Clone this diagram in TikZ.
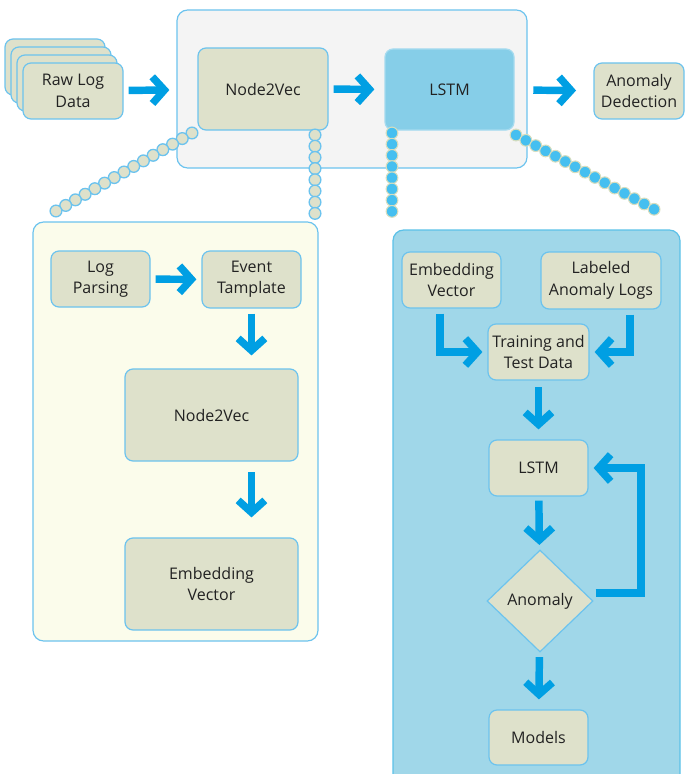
\documentclass[tikz,border=0pt]{standalone}
\usepackage{fontspec}
\setmainfont{Open Sans}
\usetikzlibrary{arrows.meta,shapes.geometric,decorations.markings}
\definecolor{nodefill}{HTML}{DEE1CB}
\definecolor{nodeedge}{HTML}{6CC3EE}
\definecolor{lstmfill}{HTML}{86CEE8}
\definecolor{lstmedge}{HTML}{A6DBEF}
\definecolor{topfill}{HTML}{F4F4F4}
\definecolor{leftfill}{HTML}{FBFCEB}
\definecolor{rightfill}{HTML}{A0D7E9}
\definecolor{rightedge}{HTML}{5BC1E8}
\definecolor{arrowblue}{HTML}{009FE3}
\definecolor{beadblue}{HTML}{45BFF0}
\definecolor{beadedge}{HTML}{D6DDBE}
\definecolor{txt}{HTML}{222222}
\tikzset{
  box/.style={draw=nodeedge, fill=nodefill, line width=0.9pt, rounded corners=6pt,
    align=center, text=txt, font=\fontsize{12}{16}\selectfont, inner sep=0pt},
  lstmbox/.style={box, fill=lstmfill, draw=lstmedge},
  panel/.style={line width=0.9pt, rounded corners=8pt},
  arr/.style={draw=arrowblue, line width=5.6pt,
    -{Straight Barb[length=9pt,width=20pt]}},
  greenbead/.style={circle, draw=nodeedge, fill=nodefill, line width=1pt,
    minimum size=8.8pt, inner sep=0pt},
  bluebead/.style={circle, draw=beadedge, fill=beadblue, line width=0.8pt,
    minimum size=8.8pt, inner sep=0pt},
  greenbeads/.style={decoration={markings,
    mark=between positions 0 and 1 step 8.4pt with {\node[greenbead]{};}}, decorate},
  bluebeads/.style={decoration={markings,
    mark=between positions 0 and 1 step 8.4pt with {\node[bluebead]{};}}, decorate},
}
\begin{document}
\begin{tikzpicture}[x=0.75pt,y=-0.75pt]
\useasboundingbox (0,0) rectangle (690,774);
% containers
\draw[panel, draw=nodeedge, fill=topfill] (177,10) rectangle (527,168);
\draw[panel, draw=nodeedge, fill=leftfill] (33,222) rectangle (318,641);
\draw[panel, draw=rightedge, fill=rightfill] (393,230) rectangle (680,790);
% raw log stack
\node[box, minimum width=75pt, minimum height=42pt] (raw3) at (55,67) {};
\node[box, minimum width=75pt, minimum height=42pt] (raw2) at (61,75) {};
\node[box, minimum width=75pt, minimum height=42pt] (raw1) at (67,83) {};
\node[box, minimum width=75pt, minimum height=42pt] (raw) at (73,91) {Raw Log\\Data};
% top row
\node[box, minimum width=97.5pt, minimum height=61.5pt] (n2v) at (263,89) {Node2Vec};
\node[lstmbox, minimum width=96.75pt, minimum height=60.75pt] (lstm) at (449.5,89.5) {LSTM};
\node[box, minimum width=67.5pt, minimum height=42pt] (det) at (639,91) {Anomaly\\Dedection};
% bead connectors
\coordinate (gl1) at (192,133); \coordinate (gl2) at (49,215);
\coordinate (gr1) at (315,135); \coordinate (gr2) at (315,218);
\coordinate (bl1) at (392,133); \coordinate (bl2) at (392,216);
\coordinate (br1) at (516,135); \coordinate (br2) at (661,213);
\path[greenbeads] (gl1) -- (gl2);
\path[greenbeads] (gr1) -- (gr2);
\path[bluebeads] (bl1) -- (bl2);
\path[bluebeads] (br1) -- (br2);
% left panel
\node[box, minimum width=74.25pt, minimum height=42pt] (parse) at (100.5,279) {Log\\Parsing};
\node[box, minimum width=74.25pt, minimum height=42.75pt] (event) at (251.5,279.5) {Event\\Tamplate};
\node[box, minimum width=129.75pt, minimum height=69pt] (n2vL) at (211.5,415) {Node2Vec};
\node[box, minimum width=129.75pt, minimum height=69pt] (embL) at (211.5,584) {Embedding\\Vector};
% right panel
\node[box, minimum width=74.25pt, minimum height=42pt] (embR) at (451.5,280) {Embedding\\Vector};
\node[box, minimum width=90pt, minimum height=42.75pt] (lab) at (601,280.5) {Labeled\\Anomaly Logs};
\node[box, minimum width=75.75pt, minimum height=42pt] (train) at (538.5,352) {Training and\\Test Data};
\node[box, minimum width=74.25pt, minimum height=42pt] (lstmR) at (538.5,468) {LSTM};
\node[diamond, draw=nodeedge, fill=nodefill, line width=0.9pt, text=txt,
  font=\fontsize{12}{16}\selectfont, minimum width=79.5pt, minimum height=76.5pt,
  inner sep=0pt] (dia) at (540,601) {Anomaly};
\node[box, minimum width=74.25pt, minimum height=41.25pt] (models) at (538.5,737.5) {Models};
% arrows
\draw[arr, shorten <=3.75pt, shorten >=21pt] (raw) -- (n2v);
\draw[arr, shorten <=3.75pt, shorten >=7.5pt] (n2v) -- (lstm);
\draw[arr, shorten <=14pt, shorten >=13pt] (lstm) -- (det);
\draw[arr, shorten <=3.75pt, shorten >=3.75pt] (parse) -- (event);
\draw[arr, shorten <=3.75pt, shorten >=9.75pt] (event) -- (event |- n2vL.north);
\draw[arr, shorten <=8pt, shorten >=15pt] (event |- n2vL.south) -- (event |- embL.north);
\draw[arr, shorten <=3.75pt, shorten >=3.75pt] ([xshift=-8.6pt]embR.south) |- (train.west);
\draw[arr, shorten <=3.75pt, shorten >=3.75pt] ([xshift=21.75pt]lab.south) |- (train.east);
\draw[arr, shorten <=5pt, shorten >=7.5pt] (train) -- (lstmR);
\draw[arr, shorten <=3pt, shorten >=3.75pt] (lstmR) -- (dia);
\draw[arr, shorten <=3.75pt, shorten >=7.5pt] (dia) -- (models);
\draw[arr, shorten >=3.75pt] ([xshift=1.5pt,yshift=6pt]dia.east) -- ++(34pt,0) |- (lstmR.east);
\end{tikzpicture}
\end{document}
